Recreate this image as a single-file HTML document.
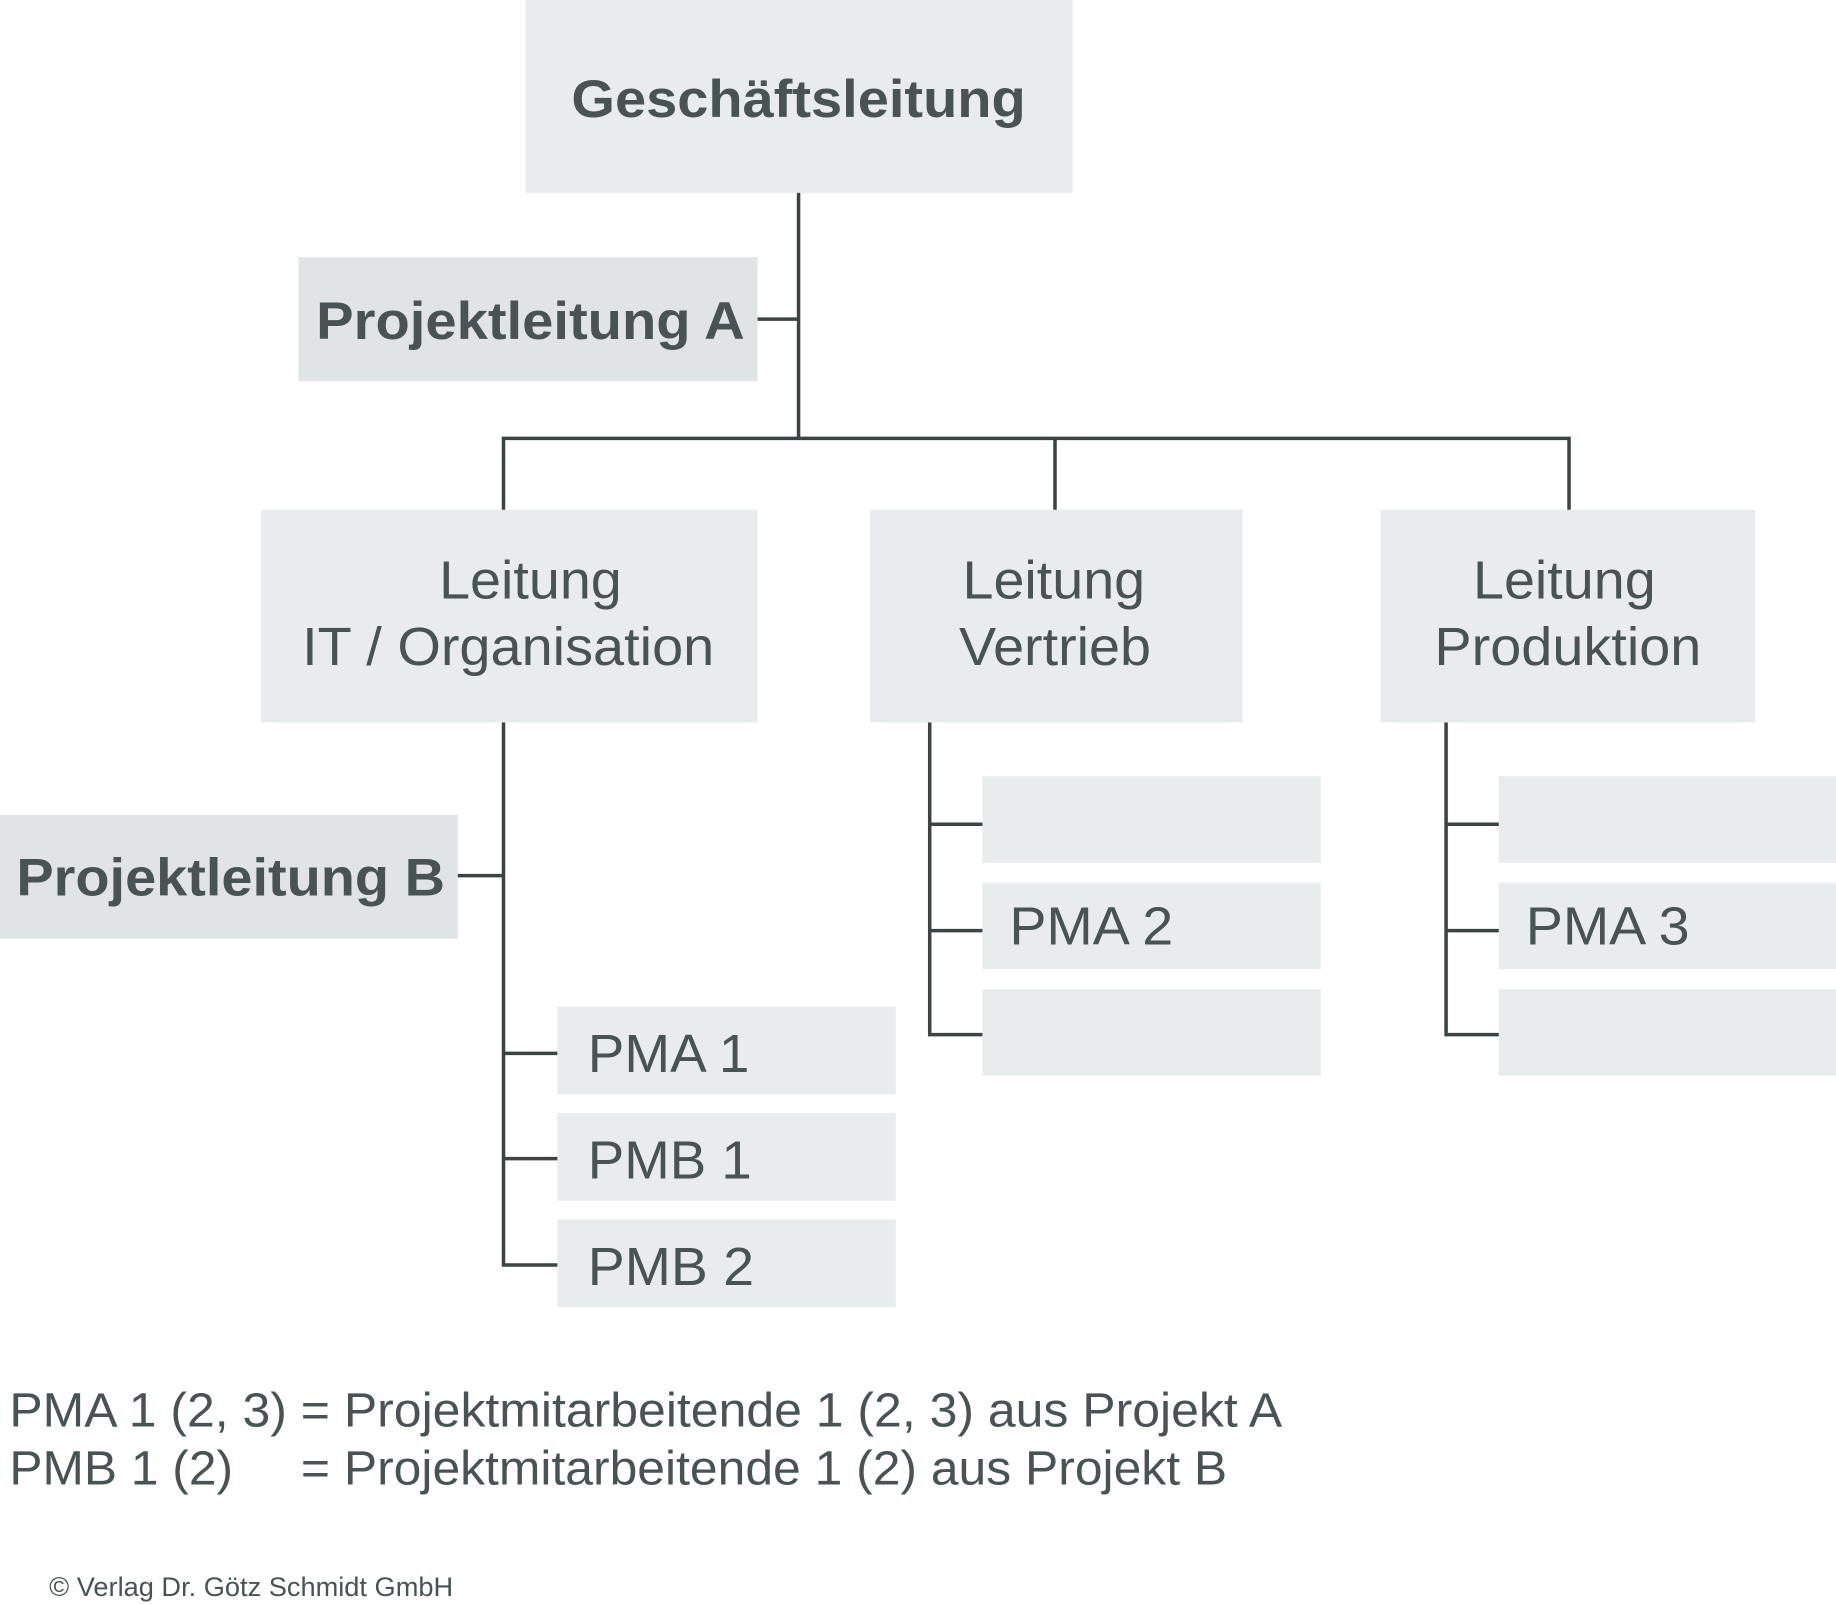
<!DOCTYPE html>
<html><head><meta charset="utf-8"><style>
html,body{margin:0;padding:0;background:#fff;}
svg{display:block;}
text{font-family:"Liberation Sans",sans-serif;fill:#4a5353;}
.b{font-weight:bold;}
</style></head><body>
<svg width="1836" height="1604" viewBox="0 0 1568 1372" preserveAspectRatio="none" xmlns="http://www.w3.org/2000/svg">
<g fill="#e9ecec">
<rect x="449" y="0" width="467" height="165"/>
<rect x="223" y="436" width="424" height="182"/>
<rect x="743" y="436" width="318" height="182"/>
<rect x="1179" y="436" width="320" height="182"/>
<rect x="476" y="861" width="289" height="75"/>
<rect x="476" y="952" width="289" height="75"/>
<rect x="476" y="1043" width="289" height="75"/>
<rect x="839" y="664" width="289" height="74"/>
<rect x="839" y="755" width="289" height="74"/>
<rect x="839" y="846" width="289" height="74"/>
<rect x="1280" y="664" width="288" height="74"/>
<rect x="1280" y="755" width="288" height="74"/>
<rect x="1280" y="846" width="288" height="74"/>
</g>
<g fill="#e1e4e4">
<rect x="255" y="220" width="392" height="106"/>
<rect x="0" y="697" width="391" height="106"/>
</g>
<g stroke="#3b4343" stroke-width="3" fill="none">
<line x1="682" y1="165" x2="682" y2="376"/>
<line x1="647" y1="273" x2="682" y2="273"/>
<polyline points="430,436 430,375 1340,375 1340,436"/>
<line x1="901" y1="375" x2="901" y2="436"/>
<polyline points="430,618 430,1082 476,1082"/>
<line x1="391" y1="749" x2="430" y2="749"/>
<line x1="430" y1="901" x2="476" y2="901"/>
<line x1="430" y1="991" x2="476" y2="991"/>
<polyline points="794,618 794,885 839,885"/>
<line x1="794" y1="705" x2="839" y2="705"/>
<line x1="794" y1="796" x2="839" y2="796"/>
<polyline points="1235,618 1235,885 1280,885"/>
<line x1="1235" y1="705" x2="1280" y2="705"/>
<line x1="1235" y1="796" x2="1280" y2="796"/>
</g>
<text class="b" x="682" y="100" font-size="45" text-anchor="middle" textLength="388" lengthAdjust="spacingAndGlyphs">Geschäftsleitung</text>
<text class="b" x="453" y="290" font-size="45" text-anchor="middle" textLength="366" lengthAdjust="spacingAndGlyphs">Projektleitung A</text>
<text class="b" x="197" y="766" font-size="45" text-anchor="middle" textLength="366" lengthAdjust="spacingAndGlyphs">Projektleitung B</text>
<g font-size="46" text-anchor="middle">
<text x="453" y="512" textLength="156" lengthAdjust="spacingAndGlyphs">Leitung</text>
<text x="434" y="569" textLength="352" lengthAdjust="spacingAndGlyphs">IT / Organisation</text>
<text x="900" y="512" textLength="156" lengthAdjust="spacingAndGlyphs">Leitung</text>
<text x="901" y="569" textLength="164" lengthAdjust="spacingAndGlyphs">Vertrieb</text>
<text x="1336" y="512" textLength="156" lengthAdjust="spacingAndGlyphs">Leitung</text>
<text x="1339" y="569" textLength="228" lengthAdjust="spacingAndGlyphs">Produktion</text>
</g>
<g font-size="46">
<text x="502" y="917" textLength="138" lengthAdjust="spacingAndGlyphs">PMA 1</text>
<text x="502" y="1008" textLength="140" lengthAdjust="spacingAndGlyphs">PMB 1</text>
<text x="502" y="1099" textLength="142" lengthAdjust="spacingAndGlyphs">PMB 2</text>
<text x="862" y="808" textLength="140" lengthAdjust="spacingAndGlyphs">PMA 2</text>
<text x="1303" y="808" textLength="140" lengthAdjust="spacingAndGlyphs">PMA 3</text>
</g>
<g font-size="41">
<text x="8" y="1220" textLength="1087" lengthAdjust="spacingAndGlyphs">PMA 1 (2, 3) = Projektmitarbeitende 1 (2, 3) aus Projekt A</text>
<text x="8" y="1270" textLength="191" lengthAdjust="spacingAndGlyphs">PMB 1 (2)</text>
<text x="257" y="1270" textLength="791" lengthAdjust="spacingAndGlyphs">= Projektmitarbeitende 1 (2) aus Projekt B</text>
</g>
<text x="42" y="1365" font-size="23" textLength="345" lengthAdjust="spacingAndGlyphs">© Verlag Dr. Götz Schmidt GmbH</text>
</svg>
</body></html>
